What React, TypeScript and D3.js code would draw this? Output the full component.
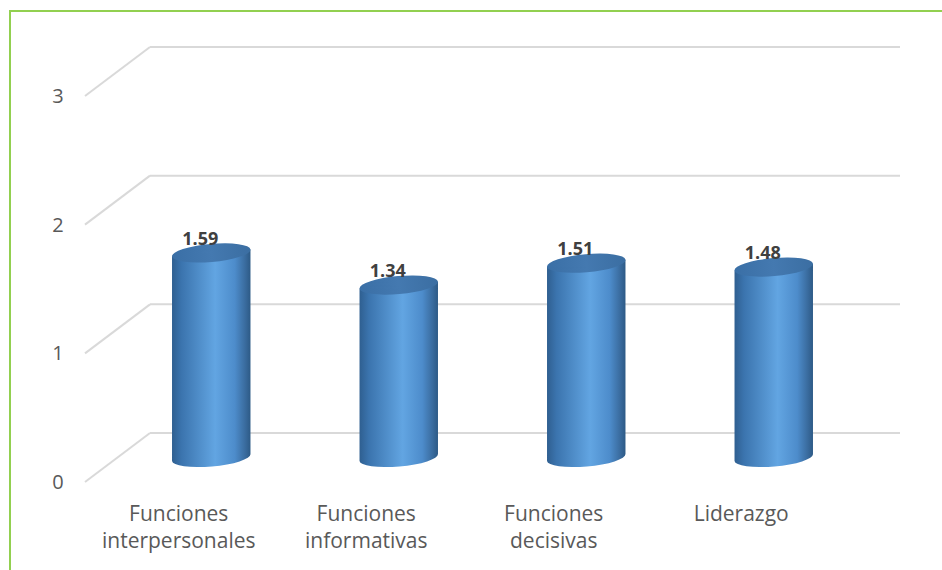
import React from "react";
import * as d3 from "d3";

const categories: string[][] = [
  ["Funciones", "interpersonales"],
  ["Funciones", "informativas"],
  ["Funciones", "decisivas"],
  ["Liderazgo"],
];
const values: number[] = [1.59, 1.34, 1.51, 1.48];
const ticks: number[] = [0, 1, 2, 3];

const W = 942;
const H = 570;
const DX = 65;
const DY = -49;
const TILT = -5;

export default function App() {
  const yFront = d3.scaleLinear().domain([0, 3]).range([482, 96]);
  const x = d3
    .scaleBand<number>()
    .domain(values.map((_, i) => i))
    .range([85, 835]);
  const bw = x.bandwidth() * 0.42;
  const rx = bw / 2;
  const ry = 9;
  const rad = (TILT * Math.PI) / 180;
  const ex = rx * Math.cos(rad);
  const ey = rx * Math.sin(rad);
  const font = "'Open Sans', sans-serif";

  return (
    <svg
      width={W}
      height={H}
      style={{ position: "absolute", left: 0, top: 0 }}
    >
      <defs>
        <linearGradient id="body" x1="0" x2="1" y1="0" y2="0">
          <stop offset="0" stopColor="#2f5f90" />
          <stop offset="0.12" stopColor="#3b74ae" />
          <stop offset="0.55" stopColor="#62a5e2" />
          <stop offset="0.8" stopColor="#4d8ccb" />
          <stop offset="0.93" stopColor="#3a6c9f" />
          <stop offset="1" stopColor="#2d5a86" />
        </linearGradient>
        <linearGradient id="top" x1="0" x2="1" y1="0" y2="0">
          <stop offset="0" stopColor="#3a6fa6" />
          <stop offset="0.5" stopColor="#4479b0" />
          <stop offset="1" stopColor="#3b6ea2" />
        </linearGradient>
      </defs>
      <rect x={10} y={11} width={1000} height={700} fill="#fff" stroke="#92d050" strokeWidth={2} />
      {ticks.map((t) => (
        <g key={t}>
          <line x1={85} y1={yFront(t)} x2={85 + DX} y2={yFront(t) + DY} stroke="#d9d9d9" strokeWidth={2} />
          <line x1={85 + DX} y1={yFront(t) + DY} x2={900} y2={yFront(t) + DY} stroke="#d9d9d9" strokeWidth={2} />
          <text x={58} y={yFront(t) + 7} textAnchor="middle" fontFamily={font} fontSize={20} fill="#595959">
            {t}
          </text>
        </g>
      ))}
      {values.map((v, i) => {
        const cxF = (x(i) as number) + x.bandwidth() / 2;
        const cx = cxF + DX / 2;
        const baseY = yFront(0) + DY / 2;
        const topY = yFront(v) + DY / 2;
        const d = `M${cx - ex},${topY - ey} L${cx - ex},${baseY - ey} A${rx},${ry} ${TILT} 0 0 ${cx + ex},${baseY + ey} L${cx + ex},${topY + ey} Z`;
        return (
          <g key={i}>
            <path d={d} fill="url(#body)" />
            <ellipse cx={cx} cy={topY} rx={rx} ry={ry} fill="url(#top)" transform={`rotate(${TILT} ${cx} ${topY})`} />
            <text x={cx - 11} y={topY - 8} textAnchor="middle" fontFamily={font} fontWeight="bold" fontSize={18} fill="#404040">
              {v.toFixed(2)}
            </text>
            {categories[i].map((line, j) => (
              <text key={j} x={cxF} y={521 + j * 27} textAnchor="middle" fontFamily={font} fontSize={21} fill="#595959">
                {line}
              </text>
            ))}
          </g>
        );
      })}
    </svg>
  );
}
